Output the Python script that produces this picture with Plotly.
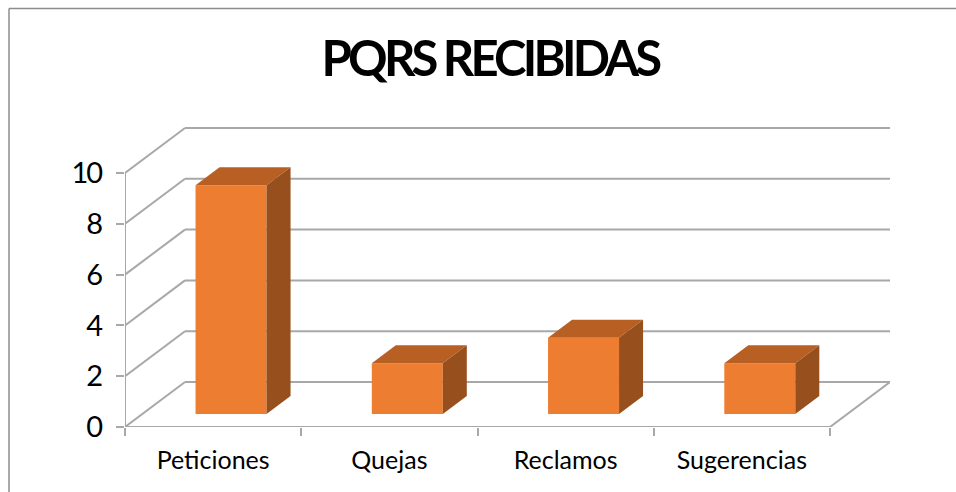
import plotly.graph_objects as go

categories = ["Peticiones", "Quejas", "Reclamos", "Sugerencias"]
values = [9, 2, 3, 2]
y_ticks = [0, 2, 4, 6, 8, 10]
title_text = "PQRS RECIBIDAS"

# oblique projection of the 3D box, in axis units
DX, DY = 60 / 176.25, 45 / 25.4       # full floor depth
BAR_W = 71 / 176.25
F0 = 0.29                             # where the bar front sits in the floor depth
F1 = 0.40                             # bar depth as a share of the floor depth
GRID = "#a8a8a8"
W, H, ML, MR, MT, MB = 956, 492, 125, 66, 127, 65

shapes = []
def seg(x0, y0, x1, y1):
    shapes.append(dict(type="line", xref="x", yref="y", x0=x0, y0=y0, x1=x1, y1=y1,
                       layer="below", line=dict(color=GRID, width=2)))

L, R = -0.5, len(categories) - 0.5
for v in y_ticks:
    seg(L, v, L + DX, v + DY)
    seg(L + DX, v + DY, R + DX, v + DY)
seg(L, 0, L, y_ticks[-1])
seg(L, 0, R, 0)
seg(R, 0, R + DX, DY)

# chart frame: only its left and top edges are in view. Paper coordinates are
# relative to the plot area, so these run outside 0..1.
pw, ph = W - ML - MR, H - MT - MB
fx0, fx1 = (9 - ML) / pw, (W - ML) / pw
fy0, fy1 = (H - MB - H) / ph, (H - MB - 8.5) / ph
for a in [dict(x0=fx0, x1=fx0, y0=fy0, y1=fy1), dict(x0=fx0, x1=fx1, y0=fy1, y1=fy1)]:
    shapes.append(dict(type="line", xref="paper", yref="paper", layer="below",
                       line=dict(color="#8c8c8c", width=1.5), **a))

fig = go.Figure()
xs = [i + F0 * DX + 0.003 for i in range(len(categories))]
base = F0 * DY
fig.add_trace(go.Bar(x=xs, y=values, base=base, width=BAR_W, marker=dict(color="#ed7d31", line=dict(width=0)),
                     showlegend=False, hoverinfo="skip"))
for x, v in zip(xs, values):
    x0, x1 = x - BAR_W / 2, x + BAR_W / 2
    top = v + base
    ddx, ddy = F1 * DX, F1 * DY
    fig.add_trace(go.Scatter(x=[x0, x1, x1 + ddx, x0 + ddx, x0], y=[top, top, top + ddy, top + ddy, top],
                             mode="lines", fill="toself", fillcolor="#b85f24", line=dict(width=0),
                             showlegend=False, hoverinfo="skip"))
    fig.add_trace(go.Scatter(x=[x1, x1 + ddx, x1 + ddx, x1, x1], y=[base, base + ddy, top + ddy, top, base],
                             mode="lines", fill="toself", fillcolor="#974f1d", line=dict(width=0),
                             showlegend=False, hoverinfo="skip"))

fig.update_layout(
    width=W, height=H, autosize=False,
    margin=dict(l=ML, r=MR, t=MT, b=MB, pad=0),
    paper_bgcolor="white", plot_bgcolor="white",
    font=dict(family="Lato", color="black"),
    title=dict(text="<b>" + title_text + "</b>", font=dict(family="Lato", size=49, color="black"),
               x=0.5125, xanchor="center", y=0.880, yanchor="middle"),
    shapes=shapes,
    xaxis=dict(range=[L, L + pw / 176.25], showgrid=False, zeroline=False, showline=False,
               tickmode="array", tickvals=list(range(len(categories))), ticktext=categories,
               ticks="", tickfont=dict(size=25), ticklabelstandoff=16,
               minor=dict(tickmode="array", tickvals=[i - 0.5 for i in range(len(categories) + 1)],
                          ticks="outside", ticklen=8, tickwidth=1.5, tickcolor=GRID, showgrid=False)),
    yaxis=dict(range=[0, ph / 25.4], showgrid=False, zeroline=False, showline=False,
               tickmode="array", tickvals=y_ticks, ticks="outside", ticklen=8, tickwidth=1.5,
               tickcolor=GRID, tickfont=dict(size=29), ticklabelstandoff=9),
)
post = """
document.body.style.margin='0';
document.querySelectorAll('.gtitle').forEach(function(t){t.style.letterSpacing='-3.8px';});
document.querySelectorAll('.ytick text').forEach(function(t){t.style.letterSpacing='-2px';});
"""
fig.write_html("out.html", post_script=post, config={"displayModeBar": False})
